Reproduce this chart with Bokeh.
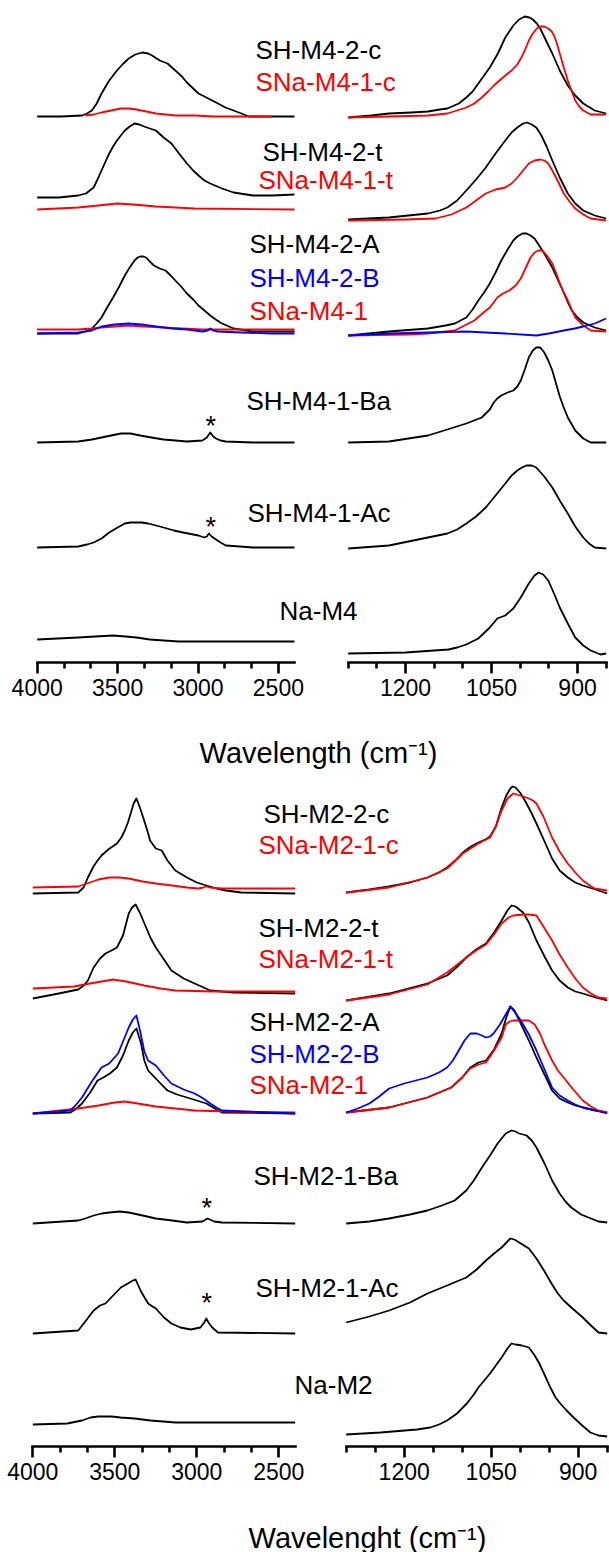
from bokeh.plotting import figure
from bokeh.models import Range1d, LinearAxis, FixedTicker, Label
from bokeh.embed import file_html
from bokeh.resources import INLINE

W, H = 609, 1552

# ------------------------------------------------------------------
# Spectra: wavenumber (cm-1) and absorbance (arbitrary units)
# ------------------------------------------------------------------
# M4 series, O-H stretching region
m4_oh_sh2c_x = [4000, 3850, 3721, 3690, 3660, 3630, 3600, 3552, 3504, 3470, 3431, 3390, 3347, 3310, 3286, 3238, 3190, 3141, 3100, 3069, 3030, 2997, 2960, 2924, 2876, 2830, 2779, 2730, 2683, 2550, 2400]
m4_oh_sh2c_y = [0, 0, 1, 3, 6, 13, 23, 36, 46, 52, 58, 62, 64, 63, 61, 56, 53, 46, 40, 34, 28, 23, 20, 17, 13, 9, 6, 3, 0, 0, 0]
m4_oh_sna1c_x = [3700, 3650, 3600, 3540, 3480, 3430, 3383, 3320, 3262, 3200, 3141, 3020, 2900, 2540]
m4_oh_sna1c_y = [1, 2, 4, 6, 8, 8, 7, 5, 3, 2, 1, 1, 0, 0]
m4_oh_sh2t_x = [4000, 3866, 3745, 3697, 3649, 3625, 3600, 3575, 3552, 3528, 3504, 3480, 3455, 3425, 3395, 3365, 3335, 3300, 3262, 3214, 3165, 3118, 3069, 3030, 2997, 2960, 2924, 2851, 2779, 2659, 2538, 2400]
m4_oh_sh2t_y = [0, 0, 2, 4, 10, 18, 27, 36, 44, 51, 57, 62, 67, 71, 74, 73, 71, 69, 67, 60, 54, 44, 34, 27, 22, 17, 14, 9, 5, 2, 2, 3]
m4_oh_sna1t_x = [4000, 3745, 3620, 3504, 3400, 3262, 3140, 3021, 2400]
m4_oh_sna1t_y = [0, 2, 4, 6, 5, 3, 2, 1, 0]
m4_oh_sh2a_x = [4000, 3866, 3745, 3700, 3660, 3630, 3600, 3565, 3528, 3490, 3455, 3425, 3395, 3375, 3359, 3340, 3323, 3300, 3274, 3238, 3202, 3170, 3141, 3105, 3069, 3030, 2997, 2960, 2924, 2890, 2851, 2779, 2659, 2538, 2400]
m4_oh_sh2a_y = [0, 0, 0, 2, 5, 10, 16, 26, 36, 47, 58, 66, 73, 76, 77, 77, 76, 72, 68, 65, 63, 58, 53, 47, 40, 34, 28, 23, 18, 14, 10, 5, 2, 2, 2]
m4_oh_sh2b_x = [4000, 3745, 3660, 3600, 3520, 3431, 3350, 3262, 3160, 3069, 2973, 2940, 2924, 2905, 2876, 2731, 2538, 2400]
m4_oh_sh2b_y = [0, 1, 3, 7, 9, 10, 9, 7, 5, 4, 2, 3, 5, 3, 2, 1, 0, 0]
m4_oh_sna1_x = [4000, 3745, 3660, 3600, 3520, 3431, 3330, 3214, 3100, 2973, 2400]
m4_oh_sna1_y = [4, 4, 5, 6, 7, 8, 7, 6, 5, 4, 4]
m4_oh_ba_x = [4000, 3745, 3660, 3600, 3540, 3479, 3420, 3359, 3290, 3214, 3140, 3069, 2973, 2945, 2924, 2905, 2888, 2860, 2827, 2659, 2400]
m4_oh_ba_y = [0, 1, 3, 5, 7, 9, 9, 7, 5, 3, 2, 1, 2, 5, 10, 6, 4, 2, 1, 0, 0]
m4_oh_ac_x = [4000, 3745, 3690, 3649, 3600, 3552, 3500, 3455, 3420, 3383, 3350, 3310, 3260, 3214, 3150, 3093, 2997, 2960, 2945, 2932, 2915, 2888, 2860, 2827, 2740, 2659, 2400]
m4_oh_ac_y = [0, 1, 3, 5, 9, 15, 20, 24, 25, 25, 25, 24, 22, 20, 17, 15, 12, 10, 11, 14, 11, 8, 5, 2, 1, 0, 0]
m4_oh_na_x = [4000, 3745, 3640, 3528, 3450, 3383, 3300, 3214, 3120, 3021, 2400]
m4_oh_na_y = [2, 4, 5, 6, 5, 4, 2, 1, 0, 0, 0]

# M4 series, Si-O fingerprint region
m4_fp_sh2c_x = [1300, 1260, 1229, 1190, 1161, 1140, 1127, 1107, 1094, 1083, 1073, 1063, 1053, 1039, 1026, 1012, 1002, 992, 984, 978, 971, 965, 955, 944, 931, 917, 904, 890, 870, 850]
m4_fp_sh2c_y = [0, 2, 4, 5, 6, 8, 9, 14, 20, 26, 34, 42, 50, 64, 80, 92, 98, 101, 100, 98, 94, 89, 77, 64, 47, 32, 22, 14, 7, 4]
m4_fp_sna1c_x = [1300, 1230, 1161, 1127, 1094, 1080, 1067, 1056, 1046, 1036, 1026, 1015, 1005, 998, 992, 985, 978, 971, 965, 958, 951, 945, 941, 936, 931, 924, 917, 910, 904, 897, 890, 877, 860, 850]
m4_fp_sna1c_y = [0, 1, 2, 4, 10, 14, 20, 26, 32, 37, 42, 47, 53, 60, 67, 77, 84, 89, 91, 91, 89, 86, 82, 74, 64, 50, 37, 26, 17, 11, 7, 3, 3, 3]
m4_fp_sh2t_x = [1300, 1229, 1161, 1140, 1127, 1110, 1094, 1077, 1060, 1043, 1026, 1015, 1005, 995, 988, 980, 972, 963, 954, 944, 931, 917, 904, 890, 870, 850]
m4_fp_sh2t_y = [1, 3, 7, 10, 13, 20, 30, 41, 53, 67, 80, 88, 93, 97, 98, 96, 93, 85, 74, 60, 43, 27, 17, 10, 5, 2]
m4_fp_sna1t_x = [1300, 1200, 1148, 1120, 1094, 1077, 1060, 1043, 1026, 1015, 1005, 995, 985, 975, 965, 958, 951, 944, 934, 924, 914, 904, 890, 877, 850]
m4_fp_sna1t_y = [1, 2, 3, 7, 14, 21, 28, 32, 34, 38, 44, 51, 58, 61, 62, 61, 58, 51, 40, 28, 20, 13, 7, 3, 1]
m4_fp_sh2a_x = [1300, 1229, 1161, 1130, 1114, 1094, 1083, 1073, 1063, 1053, 1043, 1033, 1022, 1012, 1005, 996, 989, 982, 975, 967, 958, 951, 944, 936, 928, 919, 910, 900, 890, 870, 850]
m4_fp_sh2a_y = [0, 4, 7, 10, 12, 18, 26, 35, 43, 52, 63, 75, 86, 95, 99, 102, 102, 100, 97, 90, 82, 75, 68, 58, 48, 36, 25, 18, 13, 8, 5]
m4_fp_sh2b_x = [1300, 1229, 1161, 1094, 1026, 972, 950, 924, 905, 890, 870, 850]
m4_fp_sh2b_y = [0, 2, 3, 4, 2, 0, 2, 5, 7, 9, 12, 17]
m4_fp_sna1_x = [1300, 1200, 1161, 1130, 1114, 1097, 1080, 1066, 1053, 1040, 1030, 1019, 1008, 999, 990, 982, 975, 968, 962, 958, 951, 944, 937, 931, 924, 917, 904, 890, 877, 850]
m4_fp_sna1_y = [0, 1, 2, 4, 5, 10, 15, 22, 28, 38, 42, 45, 50, 57, 68, 78, 83, 85, 85, 83, 78, 72, 62, 52, 43, 35, 18, 10, 5, 4]
m4_fp_ba_x = [1300, 1229, 1161, 1127, 1094, 1067, 1053, 1046, 1040, 1033, 1022, 1012, 1005, 999, 992, 985, 978, 972, 965, 958, 951, 944, 938, 931, 924, 917, 904, 890, 877, 850]
m4_fp_ba_y = [0, 1, 7, 13, 19, 25, 33, 40, 44, 47, 50, 52, 56, 62, 73, 85, 92, 95, 95, 90, 82, 72, 60, 46, 35, 25, 12, 4, 0, 0]
m4_fp_ac_x = [1300, 1229, 1161, 1127, 1110, 1094, 1077, 1060, 1043, 1026, 1015, 1005, 997, 989, 980, 972, 958, 944, 931, 917, 904, 890, 880, 870, 850]
m4_fp_ac_y = [0, 3, 11, 15, 19, 25, 32, 41, 53, 65, 73, 78, 81, 83, 83, 81, 72, 61, 48, 35, 22, 11, 5, 1, 0]
m4_fp_na_x = [1300, 1200, 1150, 1125, 1110, 1094, 1073, 1053, 1040, 1026, 1012, 999, 985, 975, 968, 960, 951, 941, 931, 917, 904, 890, 877, 860, 850]
m4_fp_na_y = [0, 1, 3, 4, 6, 9, 15, 26, 35, 38, 45, 56, 70, 78, 81, 79, 73, 60, 46, 30, 16, 8, 3, -1, 0]

# M2 series, O-H stretching region
m2_oh_sh2c_x = [4000, 3723, 3690, 3664, 3630, 3605, 3581, 3540, 3487, 3460, 3439, 3420, 3403, 3385, 3368, 3345, 3321, 3300, 3285, 3250, 3214, 3179, 3131, 3060, 3000, 2942, 2880, 2823, 2729, 2400]
m2_oh_sh2c_y = [0, 1, 6, 16, 27, 33, 38, 44, 50, 56, 63, 71, 80, 90, 95, 85, 73, 62, 53, 45, 43, 33, 23, 16, 11, 8, 5, 3, 1, 0]
m2_oh_sna1c_x = [4000, 3723, 3652, 3600, 3534, 3470, 3415, 3330, 3250, 3150, 3060, 2990, 2960, 2942, 2920, 2847, 2400]
m2_oh_sna1c_y = [6, 7, 11, 14, 16, 16, 15, 12, 10, 8, 6, 5, 6, 7, 6, 5, 5]
m2_oh_sh2t_x = [4000, 3842, 3723, 3690, 3664, 3629, 3590, 3557, 3520, 3487, 3450, 3415, 3395, 3373, 3345, 3309, 3280, 3250, 3200, 3155, 3080, 3013, 2918, 2776, 2400]
m2_oh_sh2t_y = [-5, 0, 4, 8, 13, 26, 35, 40, 43, 46, 58, 80, 86, 89, 80, 66, 55, 46, 34, 23, 15, 10, 3, 1, 0]
m2_oh_sna1t_x = [4000, 3750, 3652, 3580, 3510, 3430, 3321, 3220, 3131, 2900, 2400]
m2_oh_sna1t_y = [5, 7, 10, 12, 14, 12, 8, 5, 3, 2, 2]
m2_oh_sh2a_x = [4000, 3771, 3740, 3700, 3650, 3605, 3570, 3530, 3487, 3450, 3415, 3390, 3368, 3340, 3320, 3297, 3250, 3215, 3179, 3120, 3060, 3000, 2942, 2890, 2847, 2400]
m2_oh_sh2a_y = [0, 1, 4, 10, 21, 33, 36, 40, 46, 58, 73, 81, 85, 70, 53, 43, 35, 29, 23, 19, 16, 13, 10, 5, 1, 0]
m2_oh_sh2b_x = [4000, 3771, 3740, 3700, 3640, 3581, 3534, 3480, 3450, 3415, 3390, 3368, 3345, 3320, 3297, 3250, 3200, 3155, 3080, 3013, 2960, 2918, 2880, 2847, 2400]
m2_oh_sh2b_y = [0, 3, 8, 16, 32, 46, 50, 60, 72, 86, 94, 98, 82, 62, 53, 48, 38, 30, 24, 20, 15, 10, 6, 3, 0]
m2_oh_sna1_x = [4000, 3723, 3600, 3500, 3439, 3360, 3250, 3130, 3013, 2800, 2400]
m2_oh_sna1_y = [0, 5, 8, 11, 12, 10, 7, 5, 3, 2, 1]
m2_oh_ba_x = [4000, 3723, 3680, 3629, 3580, 3534, 3470, 3415, 3330, 3250, 3150, 3060, 2966, 2945, 2935, 2920, 2894, 2847, 2400]
m2_oh_ba_y = [0, 3, 5, 8, 10, 11, 12, 11, 8, 5, 3, 1, 2, 4, 5, 4, 2, 1, 0]
m2_oh_ac_x = [4000, 3723, 3680, 3629, 3590, 3557, 3510, 3463, 3420, 3390, 3373, 3340, 3297, 3270, 3250, 3200, 3155, 3100, 3037, 2978, 2955, 2942, 2925, 2906, 2871, 2400]
m2_oh_ac_y = [0, 3, 12, 23, 28, 30, 38, 46, 50, 53, 54, 42, 30, 27, 25, 16, 10, 6, 4, 6, 11, 15, 10, 6, 1, 0]
m2_oh_na_x = [4000, 3790, 3700, 3648, 3600, 3567, 3520, 3465, 3380, 3282, 3130, 2800, 2400]
m2_oh_na_y = [0, 1, 4, 7, 8, 8, 8, 7, 6, 4, 2, 2, 2]

# M2 series, Si-O fingerprint region
m2_fp_sh2c_x = [1300, 1260, 1226, 1190, 1160, 1140, 1126, 1112, 1099, 1085, 1072, 1060, 1052, 1042, 1032, 1024, 1017, 1013, 1008, 999, 990, 981, 972, 958, 945, 932, 918, 905, 892, 870, 850]
m2_fp_sh2c_y = [0, 3, 6, 10, 15, 20, 25, 32, 40, 46, 50, 53, 56, 66, 85, 97, 104, 106, 105, 99, 90, 80, 69, 51, 34, 22, 15, 10, 7, 3, -1]
m2_fp_sna1c_x = [1300, 1226, 1160, 1126, 1099, 1072, 1052, 1042, 1032, 1022, 1012, 1000, 985, 978, 972, 960, 945, 932, 918, 905, 892, 880, 872, 850]
m2_fp_sna1c_y = [0, 5, 15, 24, 39, 49, 55, 66, 82, 94, 99, 97, 94, 92, 89, 76, 55, 41, 29, 20, 12, 7, 4, 2]
m2_fp_sh2t_x = [1300, 1226, 1160, 1126, 1110, 1093, 1076, 1059, 1045, 1032, 1022, 1015, 1008, 995, 985, 972, 958, 945, 932, 918, 905, 892, 870, 850]
m2_fp_sh2t_y = [0, 7, 17, 25, 33, 43, 51, 57, 68, 80, 90, 95, 94, 88, 78, 60, 44, 30, 20, 13, 9, 7, 3, 0]
m2_fp_sna1t_x = [1300, 1226, 1160, 1126, 1093, 1076, 1059, 1045, 1032, 1020, 1012, 995, 985, 972, 960, 945, 932, 918, 905, 892, 878, 865, 850]
m2_fp_sna1t_y = [0, 6, 16, 28, 43, 50, 56, 66, 77, 83, 85, 86, 86, 85, 74, 60, 46, 33, 22, 13, 7, 3, 2]
m2_fp_sh2a_x = [1300, 1226, 1160, 1119, 1100, 1086, 1072, 1059, 1045, 1032, 1024, 1017, 1010, 999, 985, 972, 958, 945, 932, 918, 905, 892, 870, 850]
m2_fp_sh2a_y = [0, 5, 15, 25, 35, 45, 50, 52, 63, 79, 95, 106, 102, 89, 72, 55, 38, 22, 14, 10, 7, 5, 2, 0]
m2_fp_sh2b_x = [1300, 1280, 1260, 1243, 1226, 1200, 1160, 1140, 1126, 1116, 1106, 1096, 1086, 1075, 1066, 1059, 1052, 1046, 1035, 1025, 1017, 1010, 999, 985, 972, 958, 945, 932, 918, 905, 892, 870, 850]
m2_fp_sh2b_y = [0, 4, 9, 16, 24, 29, 35, 40, 45, 52, 62, 72, 79, 79, 77, 75, 76, 79, 88, 98, 106, 101, 92, 78, 62, 43, 25, 17, 12, 8, 5, 2, -1]
m2_fp_sna1_x = [1300, 1226, 1160, 1119, 1100, 1086, 1072, 1059, 1045, 1032, 1025, 1018, 1012, 999, 985, 975, 965, 959, 945, 935, 925, 910, 892, 878, 865, 850]
m2_fp_sna1_y = [0, 5, 15, 25, 35, 44, 48, 50, 62, 75, 88, 91, 92, 92, 92, 88, 78, 69, 52, 42, 35, 24, 12, 6, 2, 0]
m2_fp_ba_x = [1300, 1260, 1226, 1190, 1160, 1135, 1113, 1093, 1080, 1066, 1052, 1039, 1025, 1015, 1008, 1002, 995, 989, 980, 972, 958, 945, 932, 922, 912, 895, 878, 865, 850]
m2_fp_ba_y = [0, 2, 5, 9, 13, 18, 23, 33, 43, 56, 68, 80, 90, 93, 92, 90, 89, 88, 83, 76, 60, 43, 30, 22, 16, 9, 5, 2, 1]
m2_fp_ac_x = [1300, 1260, 1226, 1190, 1160, 1126, 1093, 1075, 1059, 1045, 1032, 1022, 1017, 1010, 999, 985, 972, 959, 945, 935, 925, 910, 892, 878, 865, 850]
m2_fp_ac_y = [11, 17, 23, 31, 40, 48, 56, 64, 73, 80, 86, 92, 95, 94, 90, 85, 75, 63, 49, 40, 33, 25, 16, 8, 1, 0]
m2_fp_na_x = [1300, 1241, 1178, 1155, 1140, 1126, 1109, 1092, 1080, 1072, 1062, 1052, 1042, 1032, 1022, 1015, 1008, 997, 985, 975, 967, 959, 948, 939, 931, 920, 908, 893, 879, 865, 850]
m2_fp_na_y = [1, 3, 6, 8, 11, 15, 22, 32, 41, 48, 55, 62, 70, 78, 87, 92, 91, 90, 88, 80, 72, 62, 48, 38, 32, 25, 18, 10, 3, 0, -1]

# Axis ticks
oh_major = [4000, 3500, 3000, 2500]
oh_minor = [4000 - 500 * k / 3 for k in range(1, 10) if k % 3]
fp_major = [1200, 1050, 900]
fp_minor = [1300, 1250, 1150, 1100, 1000, 950, 850]

# C-H band marked with an asterisk
ch_band_m4 = 2920
ch_band_m2 = 2940

BLACK, RED, BLUE = "#000000", "#ff0000", "#0000ff"
FONT = "Liberation Sans"


def span(px0, v0, px1, v1):
    """Range whose values v0/v1 land on canvas columns px0/px1."""
    k = (v1 - v0) / (px1 - px0)
    return Range1d(start=v0 - px0 * k, end=v0 + (W - px0) * k)


p = figure(width=W, height=H, output_backend="svg", toolbar_location=None,
           x_range=span(36.7, 4000, 294.0, 2400), y_range=Range1d(0, H),
           x_axis_type=None, y_axis_type=None, min_border=0,
           outline_line_color=None, background_fill_color="white",
           border_fill_color="white")
p.extra_x_ranges = {
    "m4_fp": span(347.7, 1300, 605.7, 850),
    "m2_oh": span(32.3, 4000, 294.7, 2400),
    "m2_fp": span(345.7, 1300, 606.7, 850),
}


def base(px_row):
    # stacking offset for a trace whose baseline sits at canvas row px_row
    return H - px_row


def trace(xs, ys, rng, row, color):
    kw = {} if rng == "default" else {"x_range_name": rng}
    off = base(row)
    p.line(xs, [off + v for v in ys], line_color=color, line_width=1.8,
           line_join="round", **kw)


# ---- M4 block ----
trace(m4_oh_sh2c_x, m4_oh_sh2c_y, "default", 116, BLACK)
trace(m4_oh_sna1c_x, m4_oh_sna1c_y, "default", 116, RED)
trace(m4_oh_sh2t_x, m4_oh_sh2t_y, "default", 197, BLACK)
trace(m4_oh_sna1t_x, m4_oh_sna1t_y, "default", 209, RED)
trace(m4_oh_sh2a_x, m4_oh_sh2a_y, "default", 333, BLACK)
trace(m4_oh_sna1_x, m4_oh_sna1_y, "default", 333, RED)
trace(m4_oh_sh2b_x, m4_oh_sh2b_y, "default", 333, BLUE)
trace(m4_oh_ba_x, m4_oh_ba_y, "default", 442, BLACK)
trace(m4_oh_ac_x, m4_oh_ac_y, "default", 547, BLACK)
trace(m4_oh_na_x, m4_oh_na_y, "default", 641, BLACK)

trace(m4_fp_sh2c_x, m4_fp_sh2c_y, "m4_fp", 117, BLACK)
trace(m4_fp_sna1c_x, m4_fp_sna1c_y, "m4_fp", 117, RED)
trace(m4_fp_sh2t_x, m4_fp_sh2t_y, "m4_fp", 220, BLACK)
trace(m4_fp_sna1t_x, m4_fp_sna1t_y, "m4_fp", 221, RED)
trace(m4_fp_sh2a_x, m4_fp_sh2a_y, "m4_fp", 335, BLACK)
trace(m4_fp_sna1_x, m4_fp_sna1_y, "m4_fp", 335, RED)
trace(m4_fp_sh2b_x, m4_fp_sh2b_y, "m4_fp", 335, BLUE)
trace(m4_fp_ba_x, m4_fp_ba_y, "m4_fp", 442, BLACK)
trace(m4_fp_ac_x, m4_fp_ac_y, "m4_fp", 548, BLACK)
trace(m4_fp_na_x, m4_fp_na_y, "m4_fp", 653, BLACK)

# ---- M2 block ----
trace(m2_oh_sh2c_x, m2_oh_sh2c_y, "m2_oh", 893, BLACK)
trace(m2_oh_sna1c_x, m2_oh_sna1c_y, "m2_oh", 893, RED)
trace(m2_oh_sh2t_x, m2_oh_sh2t_y, "m2_oh", 993, BLACK)
trace(m2_oh_sna1t_x, m2_oh_sna1t_y, "m2_oh", 993, RED)
trace(m2_oh_sh2a_x, m2_oh_sh2a_y, "m2_oh", 1113, BLACK)
trace(m2_oh_sna1_x, m2_oh_sna1_y, "m2_oh", 1113, RED)
trace(m2_oh_sh2b_x, m2_oh_sh2b_y, "m2_oh", 1113, BLUE)
trace(m2_oh_ba_x, m2_oh_ba_y, "m2_oh", 1223, BLACK)
trace(m2_oh_ac_x, m2_oh_ac_y, "m2_oh", 1333, BLACK)
trace(m2_oh_na_x, m2_oh_na_y, "m2_oh", 1424, BLACK)

trace(m2_fp_sh2c_x, m2_fp_sh2c_y, "m2_fp", 892, BLACK)
trace(m2_fp_sna1c_x, m2_fp_sna1c_y, "m2_fp", 892, RED)
trace(m2_fp_sh2t_x, m2_fp_sh2t_y, "m2_fp", 1000, BLACK)
trace(m2_fp_sna1t_x, m2_fp_sna1t_y, "m2_fp", 1000, RED)
trace(m2_fp_sh2a_x, m2_fp_sh2a_y, "m2_fp", 1112, BLACK)
trace(m2_fp_sna1_x, m2_fp_sna1_y, "m2_fp", 1112, RED)
trace(m2_fp_sh2b_x, m2_fp_sh2b_y, "m2_fp", 1112, BLUE)
trace(m2_fp_ba_x, m2_fp_ba_y, "m2_fp", 1223, BLACK)
trace(m2_fp_ac_x, m2_fp_ac_y, "m2_fp", 1333, BLACK)
trace(m2_fp_na_x, m2_fp_na_y, "m2_fp", 1435, BLACK)


# ---- axes pinned under each block ----
def axis(rng, lo, hi, major, minor, row):
    ax = LinearAxis(x_range_name=rng, bounds=(lo, hi),
                    ticker=FixedTicker(ticks=major, minor_ticks=minor),
                    fixed_location=base(row))
    ax.axis_line_width = 2.6
    ax.axis_line_cap = "square"
    ax.major_tick_line_width = 2.6
    ax.minor_tick_line_width = 2.6
    ax.major_tick_in = 0
    ax.major_tick_out = 11
    ax.minor_tick_in = 0
    ax.minor_tick_out = 6
    ax.major_label_text_font = FONT
    ax.major_label_text_font_size = "23px"
    ax.major_label_text_color = BLACK
    ax.major_label_standoff = 5
    p.add_layout(ax, "below")


axis("default", 2400, 4000, oh_major, oh_minor, 662)
axis("m4_fp", 850, 1300, fp_major, fp_minor, 662)
axis("m2_oh", 2400, 4000, oh_major, oh_minor, 1446)
axis("m2_fp", 850, 1300, fp_major, fp_minor, 1446)


# ---- sample names ----
def tag(text, left, row, color, size="26px"):
    p.add_layout(Label(x=left, y=base(row), x_units="screen", y_units="screen",
                       text=text, text_color=color, text_font=FONT,
                       text_font_size=size, text_align="left",
                       text_baseline="middle"))


tag("SH-M4-2-c", 255, 49, BLACK)
tag("SNa-M4-1-c", 255, 81, RED)
tag("SH-M4-2-t", 262, 151, BLACK)
tag("SNa-M4-1-t", 258, 179, RED)
tag("SH-M4-2-A", 249, 243, BLACK)
tag("SH-M4-2-B", 249, 277, BLUE)
tag("SNa-M4-1", 249, 310, RED)
tag("SH-M4-1-Ba", 246, 400, BLACK)
tag("SH-M4-1-Ac", 247, 512, BLACK)
tag("Na-M4", 279, 610, BLACK)

tag("SH-M2-2-c", 263, 813, BLACK)
tag("SNa-M2-1-c", 258, 844, RED)
tag("SH-M2-2-t", 258, 927, BLACK)
tag("SNa-M2-1-t", 258, 958, RED)
tag("SH-M2-2-A", 249, 1021, BLACK)
tag("SH-M2-2-B", 249, 1053, BLUE)
tag("SNa-M2-1", 249, 1084, RED)
tag("SH-M2-1-Ba", 253, 1175, BLACK)
tag("SH-M2-1-Ac", 255, 1287, BLACK)
tag("Na-M2", 294, 1384, BLACK)


# ---- asterisks over the C-H band ----
def star(x, rng, row):
    kw = {} if rng == "default" else {"x_range_name": rng}
    p.add_layout(Label(x=x, y=base(row), y_units="screen", text="*",
                       text_color=BLACK, text_font=FONT, text_font_size="27px",
                       text_align="center", text_baseline="alphabetic", **kw))


star(ch_band_m4, "default", 425)
star(ch_band_m4, "default", 526)
star(ch_band_m2, "m2_oh", 1207)
star(ch_band_m2, "m2_oh", 1302)


# ---- axis titles ----
def title(text, cx, row):
    p.add_layout(Label(x=cx, y=base(row), x_units="screen", y_units="screen",
                       text=text, text_color=BLACK, text_font=FONT,
                       text_font_size="29px", text_align="center",
                       text_baseline="alphabetic"))


title("Wavelength (cm\u207b\u00b9)", 318, 752)
title("Wavelenght (cm\u207b\u00b9)", 367, 1537)

open("out.html", "w").write(file_html(p, INLINE))
